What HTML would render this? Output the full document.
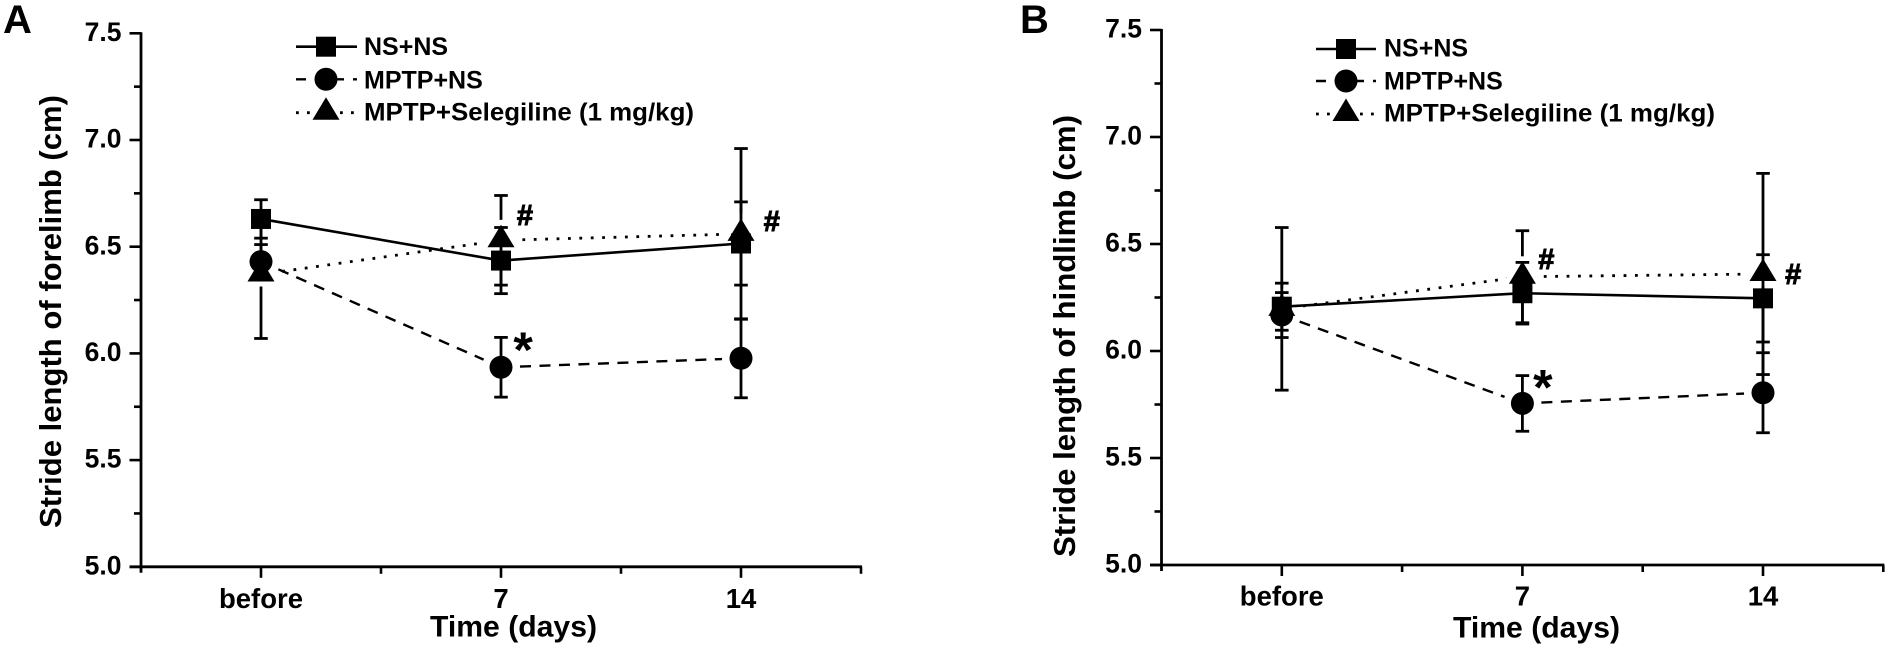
<!DOCTYPE html>
<html lang="en">
<head>
<meta charset="utf-8">
<title>Stride length of forelimb and hindlimb</title>
<style>
html,body{margin:0;padding:0;background:#fff;}
svg{display:block;}
text{font-family:"Liberation Sans",Arial,sans-serif;font-weight:bold;fill:#000;}
</style>
</head>
<body>
<svg id="figure" xmlns="http://www.w3.org/2000/svg" width="1890" height="646" viewBox="0 0 1890 646"></svg>
<script>
// ---- chart data ----
const categories = ['before', '7', '14'];
const yTickValues = [5.0, 5.5, 6.0, 6.5, 7.0, 7.5];
const yTickLabels = ['5.0', '5.5', '6.0', '6.5', '7.0', '7.5'];
const seriesNames = ['MPTP+NS', 'NS+NS', 'MPTP+Selegiline (1 mg/kg)'];

// Panel A: forelimb
const forelimbNsNs = [6.63, 6.435, 6.515];
const forelimbNsNsErr = [0.09, 0.155, 0.195];
const forelimbMptpNs = [6.43, 5.935, 5.977];
const forelimbMptpNsErr = [0.08, 0.14, 0.185];
const forelimbSelegiline = [6.37, 6.53, 6.56];
const forelimbSelegilineErr = [0.30, 0.21, 0.40];
const forelimbAnnotLabels = ['#', '#', '*'];
const forelimbAnnotCat = [2.066, 3.095, 2.06];
const forelimbAnnotVal = [6.602, 6.574, 5.937];

// Panel B: hindlimb
const hindlimbNsNs = [6.207, 6.27, 6.246];
const hindlimbNsNsErr = [0.11, 0.144, 0.204];
const hindlimbMptpNs = [6.168, 5.755, 5.805];
const hindlimbMptpNsErr = [0.105, 0.13, 0.187];
const hindlimbSelegiline = [6.197, 6.347, 6.36];
const hindlimbSelegilineErr = [0.38, 0.215, 0.47];
const hindlimbAnnotLabels = ['#', '#', '*'];
const hindlimbAnnotCat = [2.066, 3.092, 2.053];
const hindlimbAnnotVal = [6.383, 6.313, 5.75];

// ---- drawing ----
const NS = 'http://www.w3.org/2000/svg';
const root = document.getElementById('figure');

function mk(tag, attrs, parent, content) {
  const el = document.createElementNS(NS, tag);
  for (const k in attrs) el.setAttribute(k, attrs[k]);
  if (content !== undefined) el.textContent = content;
  parent.appendChild(el);
  return el;
}

const SERIES_STYLE = {
  solid: { width: 2.6, dash: null, trim: 0, marker: 'square' },
  dashed: { width: 2.4, dash: '11 8.5', trim: 19, marker: 'circle' },
  dotted: { width: 2.8, dash: '2.8 8.6', trim: 10, marker: 'triangle' }
};

function drawMarker(kind, cx, cy, parent, halo) {
  let el;
  if (kind === 'square') {
    el = mk('rect', { x: cx - 10, y: cy - 10, width: 20, height: 20 }, parent);
  } else if (kind === 'circle') {
    el = mk('circle', { cx: cx, cy: cy, r: 11.5 }, parent);
  } else {
    el = mk('polygon', { points: (cx) + ',' + (cy - 15.5) + ' ' + (cx + 13.5) + ',' + (cy + 7) + ' ' + (cx - 13.5) + ',' + (cy + 7) }, parent);
  }
  if (halo) {
    el.setAttribute('fill', '#fff');
    el.setAttribute('stroke', '#fff');
    el.setAttribute('stroke-width', '10');
    el.setAttribute('stroke-linejoin', 'round');
  } else {
    el.setAttribute('fill', '#000');
  }
  return el;
}

function drawPanel(p) {
  const g = mk('g', {}, root);
  
  

  const x = c => p.x0 + (c - 0.5) * p.xStep;
  const y = v => p.y75 + (7.5 - v) * p.yScale;
  const axisBottom = y(5);

  // panel letter
  const letter = mk('text', { x: p.letterX, y: 33, 'font-size': 40 }, g, p.letter);
  
  

  // y axis
  const yAxis = mk('line', { x1: x(0.5), x2: x(0.5), y1: y(7.5) - 1, y2: axisBottom + 6, stroke: '#000', 'stroke-width': 2.8 }, g);
  
  

  yTickValues.forEach((v, i) => {
    const tick = mk('line', { x1: x(0.5) - 11.5, x2: x(0.5), y1: y(v), y2: y(v), stroke: '#000', 'stroke-width': 2.6 }, g);
    
    
    const lab = mk('text', { x: x(0.5) - 19.5, y: y(v) + 7.6, 'font-size': 26.5, 'text-anchor': 'end' }, g, yTickLabels[i]);
    
    
    if (i < yTickValues.length - 1) {
      const mv = (v + yTickValues[i + 1]) / 2;
      const minor = mk('line', { x1: x(0.5) - 7, x2: x(0.5), y1: y(mv), y2: y(mv), stroke: '#000', 'stroke-width': 2.6 }, g);
      
      
    }
  });

  // x axis
  const xAxis = mk('line', { x1: x(0.5) - 11.5, x2: x(3.5) + 1, y1: axisBottom, y2: axisBottom, stroke: '#000', 'stroke-width': 2.8 }, g);
  
  

  [1.5, 2.5, 3.5].forEach(c => {
    const minor = mk('line', { x1: x(c), x2: x(c), y1: axisBottom, y2: axisBottom + 7, stroke: '#000', 'stroke-width': 2.6 }, g);
    
    
  });
  categories.forEach((name, i) => {
    const tick = mk('line', { x1: x(i + 1), x2: x(i + 1), y1: axisBottom, y2: axisBottom + 11, stroke: '#000', 'stroke-width': 2.6 }, g);
    
    
    const lab = mk('text', { x: x(i + 1), y: p.catBase, 'font-size': 27.5, 'text-anchor': 'middle' }, g, name);
    
    
  });

  // axis titles
  const xTitle = mk('text', { x: p.xTitleX, y: p.xTitleY, 'font-size': 30, textLength: 167, lengthAdjust: 'spacingAndGlyphs' }, g, 'Time (days)');
  
  

  const yTitle = mk('text', {
    x: p.yTitleX, y: p.yTitleBottom, 'font-size': 31,
    transform: 'rotate(-90 ' + p.yTitleX + ' ' + p.yTitleBottom + ')',
    textLength: p.yTitleLen, lengthAdjust: 'spacingAndGlyphs'
  }, g, p.yTitle);
  
  

  // series (selegiline first so that its white halo only clears its own marks)
  p.series.forEach(s => {
    const st = SERIES_STYLE[s.style];
    const sg = mk('g', {}, g);
    
    

    for (let i = 0; i < s.values.length - 1; i++) {
      const xa = x(i + 1), ya = y(s.values[i]), xb = x(i + 2), yb = y(s.values[i + 1]);
      const len = Math.hypot(xb - xa, yb - ya);
      const ux = (xb - xa) / len, uy = (yb - ya) / len;
      const seg = mk('line', {
        x1: xa + ux * st.trim, y1: ya + uy * st.trim,
        x2: xb - ux * st.trim, y2: yb - uy * st.trim,
        stroke: '#000', 'stroke-width': st.width
      }, sg);
      if (st.dash) seg.setAttribute('stroke-dasharray', st.dash);
      
      
    }

    s.values.forEach((v, i) => {
      const cx = x(i + 1);
      const top = y(v + s.errors[i]), bot = y(v - s.errors[i]);
      const bar = mk('line', { x1: cx, x2: cx, y1: top, y2: bot, stroke: '#000', 'stroke-width': 2.8 }, sg);
      
      
      [top, bot].forEach(capY => {
        const cap = mk('line', { x1: cx - 6.8, x2: cx + 6.8, y1: capY, y2: capY, stroke: '#000', 'stroke-width': 2.8 }, sg);
        
        
      });
    });

    s.values.forEach((v, i) => {
      if (st.marker === 'triangle') {
        const halo = drawMarker(st.marker, x(i + 1), y(v), sg, true);
        
        
      }
    });
    s.values.forEach((v, i) => {
      const m = drawMarker(st.marker, x(i + 1), y(v), sg, false);
      
      
    });
  });

  // significance annotations
  p.annotLabels.forEach((t, i) => {
    const big = t === '*';
    const a = mk('text', { x: x(p.annotCat[i]) - (big ? 2 : 0), y: y(p.annotVal[i]), 'font-size': big ? 50 : 29 }, g, t);
    if (!big) {
      a.setAttribute('stroke', '#000');
      a.setAttribute('stroke-width', '1');
    }
    
    
  });

  // legend
  const lg = mk('g', {}, g);
  
  
  p.legend.forEach((row, i) => {
    const st = SERIES_STYLE[row.style];
    const line = mk('line', { x1: p.legX0, x2: p.legX1, y1: row.lineY, y2: row.lineY, stroke: '#000', 'stroke-width': st.width }, lg);
    if (st.dash) line.setAttribute('stroke-dasharray', row.style === 'dashed' ? '10 9' : '2.8 8.2');
    
    
    const m = drawMarker(st.marker, p.legMX, row.lineY, lg, false);
    
    
    const attrs = { x: p.legTextX, y: row.base, 'font-size': 25 };
    if (row.len) { attrs.textLength = row.len; attrs.lengthAdjust = 'spacingAndGlyphs'; }
    const t = mk('text', attrs, lg, row.label);
    
    
  });
}

drawPanel({
  key: 'forelimb', letter: 'A', letterX: 3,
  x0: 141, xStep: 240, y75: 33.3, yScale: 213.4,
  catBase: 608, xTitleX: 430, xTitleY: 636.7,
  yTitle: 'Stride length of forelimb (cm)', yTitleX: 61, yTitleBottom: 528, yTitleLen: 433,
  series: [
    { style: 'dotted', values: forelimbSelegiline, errors: forelimbSelegilineErr },
    { style: 'dashed', values: forelimbMptpNs, errors: forelimbMptpNsErr },
    { style: 'solid', values: forelimbNsNs, errors: forelimbNsNsErr }
  ],
  annotLabels: forelimbAnnotLabels, annotCat: forelimbAnnotCat, annotVal: forelimbAnnotVal,
  legX0: 296, legX1: 357, legMX: 326, legTextX: 364,
  legend: [
    { style: 'solid', label: seriesNames[1], lineY: 46.7, base: 55 },
    { style: 'dashed', label: seriesNames[0], lineY: 79.3, base: 88.3 },
    { style: 'dotted', label: seriesNames[2], lineY: 112.7, base: 120.7, len: 330 }
  ]
});

drawPanel({
  key: 'hindlimb', letter: 'B', letterX: 1020,
  x0: 1161.5, xStep: 240.6, y75: 30, yScale: 214,
  catBase: 605.7, xTitleX: 1453, xTitleY: 637.3,
  yTitle: 'Stride length of hindlimb (cm)', yTitleX: 1075, yTitleBottom: 557, yTitleLen: 442,
  series: [
    { style: 'dotted', values: hindlimbSelegiline, errors: hindlimbSelegilineErr },
    { style: 'solid', values: hindlimbNsNs, errors: hindlimbNsNsErr },
    { style: 'dashed', values: hindlimbMptpNs, errors: hindlimbMptpNsErr }
  ],
  annotLabels: hindlimbAnnotLabels, annotCat: hindlimbAnnotCat, annotVal: hindlimbAnnotVal,
  legX0: 1316, legX1: 1376, legMX: 1346, legTextX: 1384,
  legend: [
    { style: 'solid', label: seriesNames[1], lineY: 49, base: 56.7 },
    { style: 'dashed', label: seriesNames[0], lineY: 81, base: 89.3 },
    { style: 'dotted', label: seriesNames[2], lineY: 114, base: 121.7, len: 331 }
  ]
});
</script>
</body>
</html>
